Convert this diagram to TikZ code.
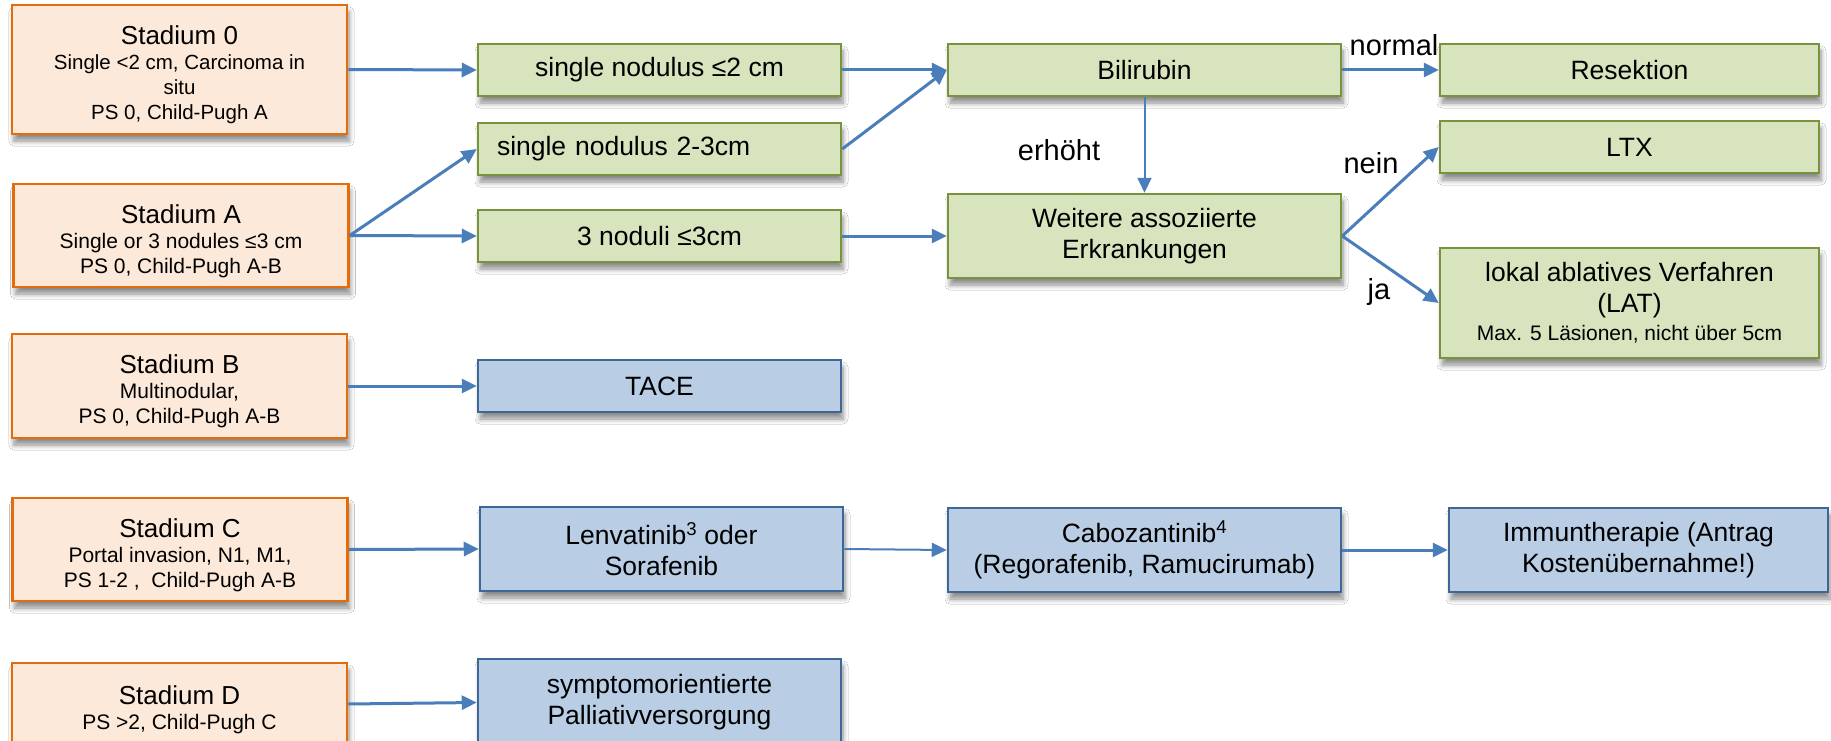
\documentclass[tikz,border=0pt]{standalone}
\usepackage{fontspec}
\setmainfont{Liberation Sans}
\usetikzlibrary{arrows.meta,shadows.blur}
\definecolor{ofill}{HTML}{FDE9D9}
\definecolor{oline}{HTML}{E46C0A}
\definecolor{gfill}{HTML}{D7E4BD}
\definecolor{gline}{HTML}{77933C}
\definecolor{bfill}{HTML}{B9CDE5}
\definecolor{bline}{HTML}{3F6796}
\definecolor{acol}{HTML}{4A7EBB}
\tikzset{
  box/.style={draw, line width=2.5pt, inner sep=0pt, align=center,
    font=\fontsize{26.5}{31}\selectfont,
    blur shadow={shadow xshift=2pt, shadow yshift=-7pt, shadow blur radius=5pt, shadow blur steps=6, shadow opacity=45}},
  stadium/.style={box, draw=oline, fill=ofill, minimum width=335pt, font=\fontsize{21}{25}\selectfont},
  gbox/.style={box, draw=gline, fill=gfill},
  bbox/.style={box, draw=bline, fill=bfill},
  arr/.style={draw=acol, line width=3pt, -{Triangle[length=15pt,width=14pt]}},
  thinarr/.style={arr, line width=2pt},
  lbl/.style={font=\fontsize{29}{32}\selectfont, inner sep=0pt}
}
\newcommand{\stt}[1]{{\fontsize{26}{30}\selectfont\rule{0pt}{30pt}#1}}
\begin{document}
\begin{tikzpicture}[x=1pt,y=-1pt]
\path[use as bounding box, clip] (0,0) rectangle (1831,741);
\fill[white] (0,0) rectangle (1831,741);
% Stadium column
\node[stadium, minimum height=129pt, font=\fontsize{20.5}{25}\selectfont] (s0) at (179.5,69.5) {\stt{Stadium 0}\\Single <2 cm, Carcinoma in\\situ\\PS 0, Child-Pugh A};
\node[stadium, minimum height=103pt] (sa) at (181,235.5) {\stt{Stadium A}\\Single or 3 nodules ≤3 cm\\PS 0, Child-Pugh A-B};
\node[stadium, minimum height=104pt] (sb) at (179.5,386) {\stt{Stadium B}\\Multinodular,\\PS 0, Child-Pugh A-B};
\node[stadium, minimum height=103pt] (sc) at (180,549.5) {\stt{Stadium C}\\Portal invasion, N1, M1,\\PS 1-2 ,\ \ Child-Pugh A-B};
\node[stadium, minimum height=82pt] (sd) at (179.5,704) {\stt{Stadium D}\\PS >2, Child-Pugh C};
% second column
\node[gbox, minimum width=363pt, minimum height=52pt] (n1) at (659.5,70) {single nodulus ≤2 cm};
\node[gbox, minimum width=363pt, minimum height=52pt, text width=325pt, align=left] (n2) at (659.5,149) {single nodulus 2-3cm};
\node[gbox, minimum width=363pt, minimum height=52pt] (n3) at (659.5,236) {3 noduli ≤3cm};
\node[bbox, minimum width=363pt, minimum height=52pt] (tace) at (659.5,386) {TACE};
\node[bbox, minimum width=363pt, minimum height=84pt] (lenv) at (661.5,549) {Lenvatinib\textsuperscript{3} oder\\Sorafenib};
\node[bbox, minimum width=363pt, minimum height=87pt] (pall) at (659.5,702.5) {symptomorientierte\\Palliativversorgung};
% third column
\node[gbox, minimum width=393pt, minimum height=52pt] (bili) at (1144.5,70) {Bilirubin};
\node[gbox, minimum width=393pt, minimum height=84pt] (weit) at (1144.5,236) {Weitere assoziierte\\Erkrankungen};
\node[bbox, minimum width=393pt, minimum height=84pt] (cabo) at (1144.5,550) {Cabozantinib\textsuperscript{4}\\(Regorafenib, Ramucirumab)};
% fourth column
\node[gbox, minimum width=379pt, minimum height=52pt] (res) at (1629.5,70) {Resektion};
\node[gbox, minimum width=379pt, minimum height=52pt] (ltx) at (1629.5,147) {LTX};
\node[gbox, minimum width=379pt, minimum height=110pt] (lat) at (1629.5,303) {lokal ablatives Verfahren\\(LAT)\\[-3pt]{\fontsize{21}{24}\selectfont Max. 5 Läsionen, nicht über 5cm}};
\node[bbox, minimum width=379pt, minimum height=84pt] (imm) at (1638.5,550) {Immuntherapie (Antrag\\Kostenübernahme!)};
% arrows
\draw[arr] (s0.east) -- (n1.west);
\draw[arr] (sa.east) -- (n2.west);
\draw[arr] (sa.east) -- (n3.west);
\draw[arr] (n1.east) -- (bili.west);
\draw[arr] (n2.east) -- (bili.west);
\draw[arr] (n3.east) -- (weit.west);
\draw[arr] (bili.east) -- (res.west);
\draw[thinarr] (bili.south) -- (weit.north);
\draw[arr] (weit.east) -- (ltx.west);
\draw[arr] (weit.east) -- (lat.west);
\draw[arr] (sb.east) -- (tace.west);
\draw[arr] (sc.east) -- (lenv.west);
\draw[arr] (sd.east) -- (pall.west);
\draw[thinarr] (lenv.east) -- (cabo.west);
\draw[arr] (cabo.east) -- (imm.west);
% labels
\node[lbl] (lnormal) at (1394,45) {normal};
\node[lbl] (lerh) at (1059,150) {erhöht};
\node[lbl] (lnein) at (1371,163) {nein};
\node[lbl] (lja) at (1379,292) {ja};
\end{tikzpicture}
\end{document}
